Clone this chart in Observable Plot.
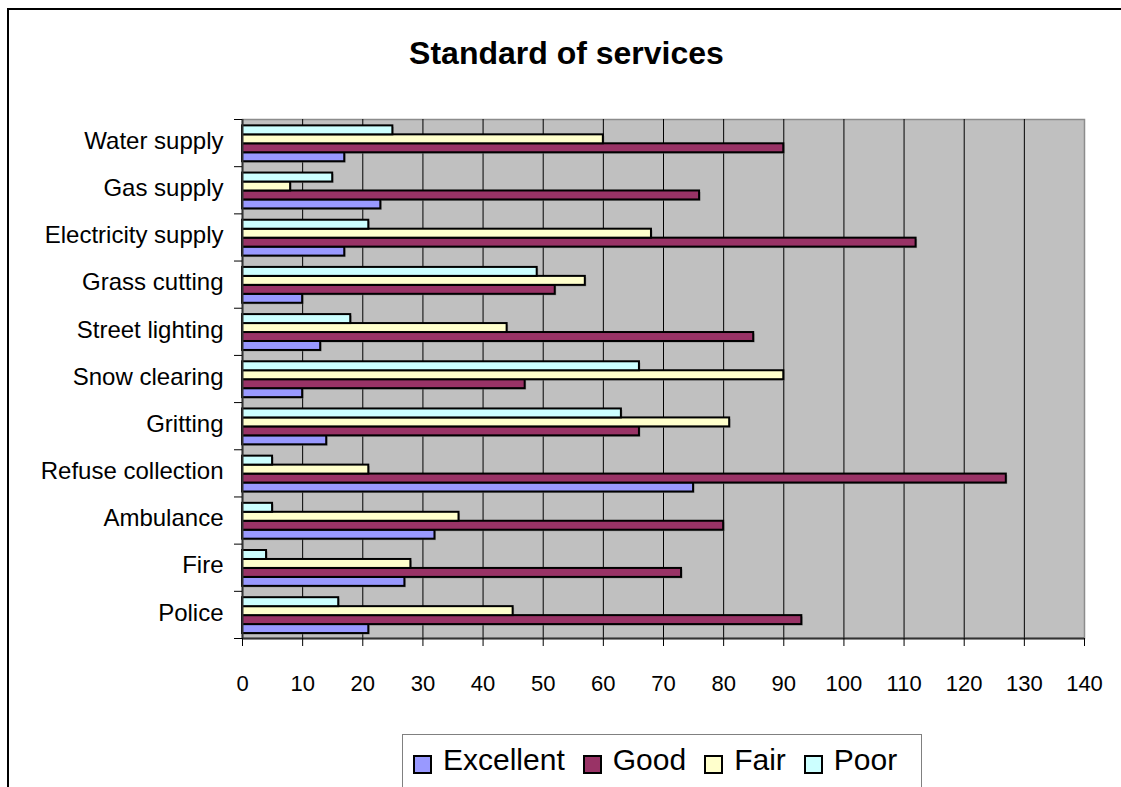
<!DOCTYPE html>
<html><head><meta charset="utf-8">
<script src="https://cdn.jsdelivr.net/npm/d3@7"></script>
<script src="https://cdn.jsdelivr.net/npm/@observablehq/plot@0.6"></script>
<style>
html,body{margin:0;padding:0;background:#fff;}
#chart{position:relative;width:1121px;height:787px;overflow:hidden;font-family:'Liberation Sans',Arial,sans-serif;color:#000;}
#border{position:absolute;left:7px;top:8px;width:1200px;height:900px;border-left:2px solid #000;border-top:2px solid #000;}
#title{position:absolute;left:0;width:1133px;top:35px;text-align:center;font-weight:bold;font-size:32px;line-height:37px;}
#plot{position:absolute;left:0;top:100px;}
#legend{position:absolute;left:402px;top:734px;width:520px;height:100px;border:1px solid #808080;box-sizing:border-box;display:flex;align-items:flex-start;padding-left:10px;padding-top:10px;background:#fff;}
.item{display:flex;align-items:flex-start;margin-right:18px;}
.sw{width:19px;height:19px;box-sizing:border-box;border:2px solid #000;margin-top:10px;margin-right:11px;}
.lab{font-size:30px;line-height:30px;white-space:nowrap;}
</style>
</head>
<body>
<div id="chart">
  <div id="border"></div>
  <div id="title"></div>
  <div id="plot"></div>
  <div id="legend"></div>
</div>
<script>
// ---- data ----
const titleText = "Standard of services";
const categories = ["Water supply","Gas supply","Electricity supply","Grass cutting","Street lighting","Snow clearing","Gritting","Refuse collection","Ambulance","Fire","Police"];
const seriesNames = ["Excellent","Good","Fair","Poor"];
const seriesColors = ["#9999ff","#993366","#ffffcc","#ccffff"];
const excellent = [17,23,17,10,13,10,14,75,32,27,21];
const good      = [90,76,112,52,85,47,66,127,80,73,93];
const fair      = [60,8,68,57,44,90,81,21,36,28,45];
const poor      = [25,15,21,49,18,66,63,5,5,4,16];
const xTicks = [0,10,20,30,40,50,60,70,80,90,100,110,120,130,140];

const seriesValues = [excellent, good, fair, poor];
const rows = categories.flatMap((c, i) => seriesNames.map((s, j) => ({
  category: c, i, series: s, slot: seriesNames.length - 1 - j, value: seriesValues[j][i]
})));

// layout of bars inside a category band (fraction of the band)
const PAD = 0.135, STEP = 0.19;
const n = categories.length;

document.getElementById("title").textContent = titleText;

const chart = Plot.plot({
  width: 1121,
  height: 598,
  marginLeft: 242,
  marginRight: 37,
  marginTop: 19,
  marginBottom: 60,
  style: {fontFamily: "'Liberation Sans', Arial, sans-serif", fontSize: "22px", color: "#000", background: "transparent", overflow: "visible"},
  x: {domain: [xTicks[0], xTicks[xTicks.length - 1]]},
  y: {domain: [0, n], reverse: true},
  color: {domain: seriesNames, range: seriesColors},
  marks: [
    Plot.frame({fill: "#c0c0c0", stroke: "#8c8c8c", strokeWidth: 1.5}),
    Plot.ruleX(xTicks.slice(1, -1), {stroke: "#000", strokeWidth: 1}),
    Plot.rectX(rows, {
      x1: 0, x2: "value",
      y1: d => d.i + PAD + d.slot * STEP,
      y2: d => d.i + PAD + (d.slot + 1) * STEP,
      fill: "#777", dx: 1.5, dy: 1.5, fillOpacity: 0.6
    }),
    Plot.rectX(rows, {
      x1: 0, x2: "value",
      y1: d => d.i + PAD + d.slot * STEP,
      y2: d => d.i + PAD + (d.slot + 1) * STEP,
      fill: "series", stroke: "#000", strokeWidth: 2
    }),
    Plot.ruleX([xTicks[0]], {stroke: "#333", strokeWidth: 2}),
    Plot.ruleY([n], {stroke: "#333", strokeWidth: 2}),
    Plot.axisX({ticks: xTicks, tickSize: 8, tickPadding: 29, fontSize: 22, label: null, tickFormat: d => String(d)}),
    Plot.axisY({ticks: d3.range(0, n + 1), tickSize: 8, tickFormat: () => "", label: null}),
    Plot.axisY({ticks: categories.map((c, i) => i + 0.5), tickSize: 0, tickPadding: 19, fontSize: 24, dy: -2, label: null,
      tickFormat: v => categories[Math.floor(v)]})
  ]
});
document.getElementById("plot").appendChild(chart);

// legend
const legend = document.getElementById("legend");
seriesNames.forEach((s, j) => {
  const item = document.createElement("div");
  item.className = "item";
  const sw = document.createElement("div");
  sw.className = "sw";
  sw.style.background = seriesColors[j];
  const lab = document.createElement("span");
  lab.className = "lab";
  lab.textContent = s;
  item.appendChild(sw); item.appendChild(lab);
  legend.appendChild(item);
});
</script>
</body></html>
